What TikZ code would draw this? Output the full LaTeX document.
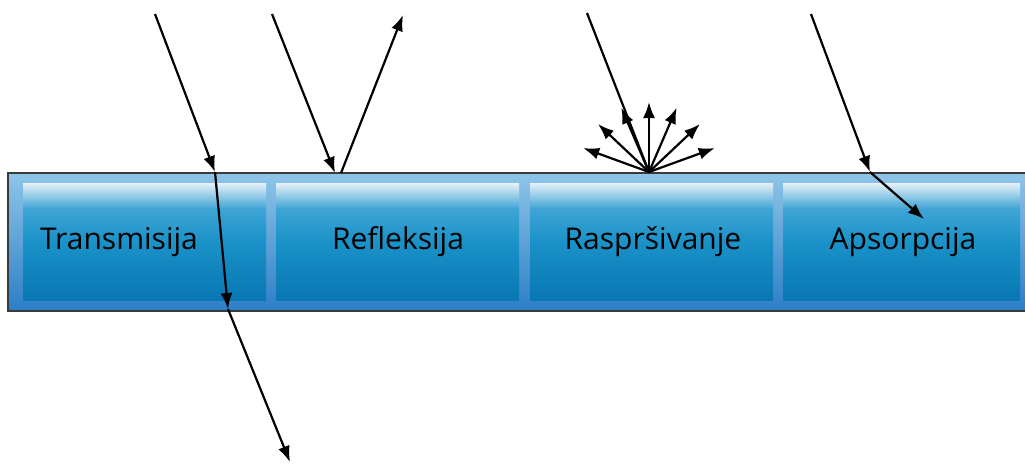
\documentclass[tikz,border=0pt]{standalone}
\usepackage{fontspec}
\setmainfont{Open Sans}
\usepackage{tikz}
\usetikzlibrary{calc,arrows.meta}
\definecolor{barTop}{HTML}{8FC5E8}
\definecolor{barBot}{HTML}{2C7EC6}
\definecolor{cellTop}{HTML}{E6F1F9}
\definecolor{cellHi}{HTML}{3FA4D5}
\definecolor{cellMid}{HTML}{1A92C8}
\definecolor{cellBot}{HTML}{0877B3}
\definecolor{barLine}{HTML}{3A3A3A}
\pgfdeclareverticalshading{cellshade}{100bp}{color(0bp)=(cellBot); color(25bp)=(cellBot); color(50bp)=(cellMid); color(64bp)=(cellHi); color(75bp)=(cellTop); color(100bp)=(cellTop)}
\tikzset{
  cell/.style={inner sep=0pt, minimum width=121.5pt, minimum height=58.5pt, shading=cellshade},
  celltext/.style={font=\fontsize{15}{18}\selectfont, text=black, inner sep=0pt},
  ray/.style={black, line width=1.1pt},
  rayto/.style={ray, -{Latex[length=8pt,width=6pt]}}
}

\begin{document}
\begin{tikzpicture}[x=0.5pt, y=-0.5pt]
    \useasboundingbox (0,0) rectangle (1025,463);

    % the bar
    \shade[top color=barTop, bottom color=barBot] (8,173) rectangle (1025,311);
    \draw[barLine, line width=0.6pt] (1025,173) -- (8,173) -- (8,311) -- (1025,311);

    % the four cells
    \node[cell] (trans) at (144.5,241.5) {};
    \node[cell] (refl)  at (397.5,241.5) {};
    \node[cell] (scat)  at (651.5,241.5) {};
    \node[cell, minimum width=118.5pt] (abs) at (901.5,241.5) {};

    \node[celltext] (transtxt) at (119,242) {Transmisija};
    \node[celltext] (refltxt)  at (398,242) {Refleksija};
    \node[celltext] (scattxt)  at (653,242) {Raspršivanje};
    \node[celltext] (abstxt)   at (903,242) {Apsorpcija};

    % transmission
    \coordinate (t0) at (155,14);
    \coordinate (t1) at (215,172);
    \coordinate (t2) at (228,309);
    \coordinate (t3) at (290,462);
    \draw[rayto] (t0) -- (t1);
    \draw[rayto] (t1) -- (t2);
    \draw[rayto] (t2) -- (t3);

    % reflection
    \coordinate (r0) at (272,14);
    \coordinate (r1) at (335,173);
    \coordinate (r2) at (341,173);
    \coordinate (r3) at (403,15);
    \draw[rayto] (r0) -- (r1);
    \draw[rayto] (r2) -- (r3);

    % scattering
    \coordinate (s0) at (587,13);
    \coordinate (s1) at (649,172);
    \draw[ray] (s0) -- (s1);
    \foreach \a in {20,43.3,66.7,90,113.3,136.7,160}
        \draw[rayto] (s1) -- ++(-\a:70);

    % absorption
    \coordinate (a0) at (811,14);
    \coordinate (a1) at (870,172);
    \coordinate (a2) at (924,219);
    \draw[rayto] (a0) -- (a1);
    \draw[rayto] (a1) -- (a2);
\end{tikzpicture}
\end{document}
